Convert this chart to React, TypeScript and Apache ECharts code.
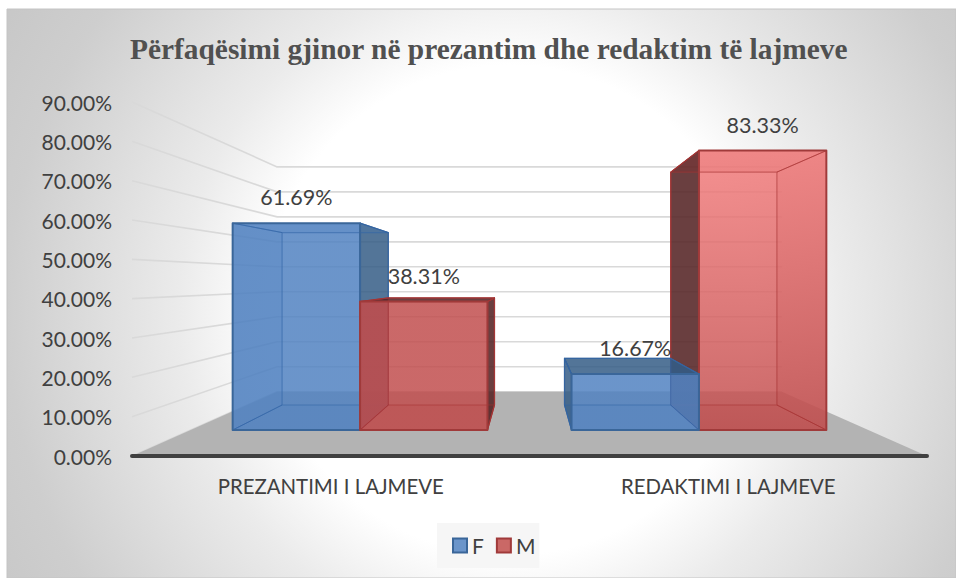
import React, { useEffect, useRef } from "react";
import * as echarts from "echarts";

const titleText = "Përfaqësimi gjinor në prezantim dhe redaktim të lajmeve";
const categories = ["PREZANTIMI I LAJMEVE", "REDAKTIMI I LAJMEVE"];
const femaleValues = [61.69, 16.67];
const maleValues = [38.31, 83.33];
const wallTicks = [0, 10, 20, 30, 40, 50, 60, 70, 80, 90];

const FONT = "Lato";
const TEXT = "#404040";

// camera of the 3D look: depth factors of the plane of each surface
const WALL_DEPTH = 0.635;
const BAR_FRONT = 0.8525;
const BAR_BACK = 0.7105;
const BAR_WIDTH = 0.376; // part of a category band
const FLOOR_DROP = 176.2; // vanishing point above the base line

type P = [number, number];

function camera(api: any, params: any) {
  const cs = params.coordSys;
  const vx = cs.x + cs.width / 2;
  const vy = api.coord([0, 0])[1] - FLOOR_DROP;
  return (p: number[], s: number): P => [vx + (p[0] - vx) * s, vy + (p[1] - vy) * s];
}

function renderWall(params: any, api: any) {
  const cs = params.coordSys;
  const cam = camera(api, params);
  const y = api.coord([0, api.value(1)])[1];
  const left = [cs.x, y];
  const right = [cs.x + cs.width, y];
  return {
    type: "polyline",
    z2: 1,
    shape: { points: [left, cam(left, WALL_DEPTH), cam(right, WALL_DEPTH)] },
    style: { stroke: "#d9d9d9", lineWidth: 1.6, fill: "none" },
  };
}

function renderFloor(params: any, api: any) {
  const cs = params.coordSys;
  const cam = camera(api, params);
  const y = api.coord([0, 0])[1];
  const left = [cs.x, y];
  const right = [cs.x + cs.width, y];
  return {
    type: "polygon",
    z2: 2,
    shape: { points: [left, cam(left, WALL_DEPTH), cam(right, WALL_DEPTH), right] },
    style: { fill: "#b3b3b3" },
  };
}

const mix = (a: number[], b: number[], t: number) =>
  `rgba(${a.map((v, i) => Math.round(v + (b[i] - v) * t)).join(",")},0.85)`;

const palettes: any = {
  F: {
    base: [81, 130, 193], bright: [81, 130, 193],
    dark: "rgba(50,90,132,0.84)", inner: "rgba(70,120,180,0.22)",
    edge: "#3a6699", line: "rgba(50,100,165,0.55)",
  },
  M: {
    base: [193, 78, 78], bright: [243, 125, 125],
    dark: "rgba(85,36,38,0.88)", inner: "rgba(140,40,40,0.25)",
    edge: "#a03a3a", line: "rgba(165,50,50,0.55)",
  },
};

function renderBar(side: "F" | "M") {
  return (params: any, api: any) => {
    const cat = api.value(0);
    const value = api.value(1);
    const cam = camera(api, params);
    const band = api.size([1, 0])[0];
    const mid = api.coord([cat, 0])[0];
    const x0 = side === "F" ? mid - band * BAR_WIDTH : mid;
    const x1 = side === "F" ? mid : mid + band * BAR_WIDTH;
    const yb = api.coord([cat, 0])[1];
    const yt = api.coord([cat, value])[1];
    const pal = palettes[side];
    const order = (side === "F") === (cat === 0) ? 10 : 40;

    const fbl = cam([x0, yb], BAR_FRONT), fbr = cam([x1, yb], BAR_FRONT);
    const ftl = cam([x0, yt], BAR_FRONT), ftr = cam([x1, yt], BAR_FRONT);
    const bbl = cam([x0, yb], BAR_BACK), bbr = cam([x1, yb], BAR_BACK);
    const btl = cam([x0, yt], BAR_BACK), btr = cam([x1, yt], BAR_BACK);

    const leftOuter = btl[0] < ftl[0];
    const rightOuter = btr[0] > ftr[0];
    const topOuter = btl[1] < ftl[1];

    const face = (points: P[], fill: any, z: number, stroke?: string, lw = 1.2) => ({
      type: "polygon",
      z2: order + z,
      shape: { points },
      style: { fill, stroke: stroke || "none", lineWidth: lw, lineJoin: "round" },
    });
    const tint = Math.max(0, (value - 40) / 43);
    const frontFill = new echarts.graphic.LinearGradient(0, 0, 0, 1, [
      { offset: 0, color: mix(pal.base, pal.bright, tint) },
      { offset: 1, color: mix(pal.base, pal.base, 0) },
    ]);

    const children: any[] = [
      face([bbl, bbr, fbr, fbl], pal.inner, 0),
      face([btl, ftl, fbl, bbl], leftOuter ? pal.dark : pal.inner, 1, leftOuter ? pal.edge : undefined),
      face([btr, ftr, fbr, bbr], rightOuter ? pal.dark : pal.inner, 1, rightOuter ? pal.edge : undefined),
      face([btl, btr, ftr, ftl], topOuter ? pal.dark : pal.inner, 1, topOuter ? pal.edge : undefined),
      face([ftl, ftr, fbr, fbl], frontFill, 5),
      // see-through edges of the far side of the box
      face([btl, btr, bbr, bbl], "none", 6, pal.line, 1.2),
      face([ftl, btl], "none", 6, pal.line, 1),
      face([ftr, btr], "none", 6, pal.line, 1),
      face([fbl, bbl], "none", 6, pal.line, 1),
      face([fbr, bbr], "none", 6, pal.line, 1),
      face([ftl, ftr, fbr, fbl], "none", 7, pal.edge, 2),
      {
        type: "text",
        z2: 100,
        style: {
          text: value.toFixed(2) + "%",
          x: (ftl[0] + ftr[0]) / 2,
          y: ftl[1] - 26,
          align: "center",
          verticalAlign: "middle",
          fill: TEXT,
          fontFamily: FONT,
          fontSize: 21.5,
        },
      },
    ];
    return { type: "group", children };
  };
}

export default function App() {
  const ref = useRef<HTMLDivElement>(null);
  useEffect(() => {
    const chart = echarts.init(ref.current!, undefined, { renderer: "svg" });
    const catData = (vals: number[]) => vals.map((v, i) => [i, v]);
    chart.setOption({
      animation: false,
      backgroundColor: "#ffffff",
      title: {
        text: titleText,
        left: 125,
        top: 29,
        textStyle: {
          fontFamily: "Liberation Serif",
          fontWeight: "bold",
          fontSize: 29.4,
          color: "#505050",
        },
      },
      graphic: {
        elements: [
          {
            type: "rect",
            silent: true,
            z: -10,
            shape: { x: 7, y: 9, width: 949, height: 569 },
            style: {
              stroke: "#c4c4c4",
              lineWidth: 1,
              fill: new echarts.graphic.RadialGradient(
                510, 310, 720,
                [
                  { offset: 0, color: "#ffffff" },
                  { offset: 0.34, color: "#ffffff" },
                  { offset: 0.46, color: "#ebebeb" },
                  { offset: 0.7, color: "#cecece" },
                  { offset: 1, color: "#bdbdbd" },
                ],
                true
              ),
            },
          },
        ],
      },
      legend: {
        data: [
          { name: "F", itemStyle: { color: "#6b95ca", borderColor: "#3a6699", borderWidth: 2 } },
          { name: "M", itemStyle: { color: "#ca6866", borderColor: "#a03a3a", borderWidth: 2 } },
        ],
        left: 437,
        top: 523,
        padding: [12, 4, 12, 15],
        backgroundColor: "rgba(245,245,245,0.85)",
        icon: "rect",
        itemWidth: 14,
        itemHeight: 14,
        itemGap: 12,
        selectedMode: false,
        textStyle: { fontFamily: FONT, fontSize: 21, color: TEXT, padding: [0, 0, 0, 0] },
      },
      grid: { left: 132, right: 29, top: 102, bottom: 122 },
      xAxis: {
        type: "category",
        z: 5,
        data: categories,
        axisTick: { show: false },
        axisLine: { lineStyle: { color: "#404040", width: 4, cap: "round" } },
        axisLabel: { color: TEXT, fontFamily: FONT, fontSize: 20.4, margin: 20 },
      },
      yAxis: {
        type: "value",
        min: 0,
        max: 90,
        interval: 10,
        splitLine: { show: false },
        axisLine: { show: false },
        axisTick: { show: false },
        axisLabel: {
          color: TEXT,
          fontFamily: FONT,
          fontSize: 21,
          margin: 20,
          formatter: (v: number) => v.toFixed(2) + "%",
        },
      },
      series: [
        { name: "wall", type: "custom", silent: true, renderItem: renderWall, data: wallTicks.map((t) => [0, t]), clip: false },
        { name: "floor", type: "custom", silent: true, renderItem: renderFloor, data: [[0, 0]], clip: false },
        { name: "F", type: "custom", silent: true, renderItem: renderBar("F"), data: catData(femaleValues), clip: false },
        { name: "M", type: "custom", silent: true, renderItem: renderBar("M"), data: catData(maleValues), clip: false },
      ],
    });
    return () => chart.dispose();
  }, []);
  return (
    <div
      ref={ref}
      style={{ position: "fixed", left: 0, top: 0, width: 956, height: 578 }}
    />
  );
}
